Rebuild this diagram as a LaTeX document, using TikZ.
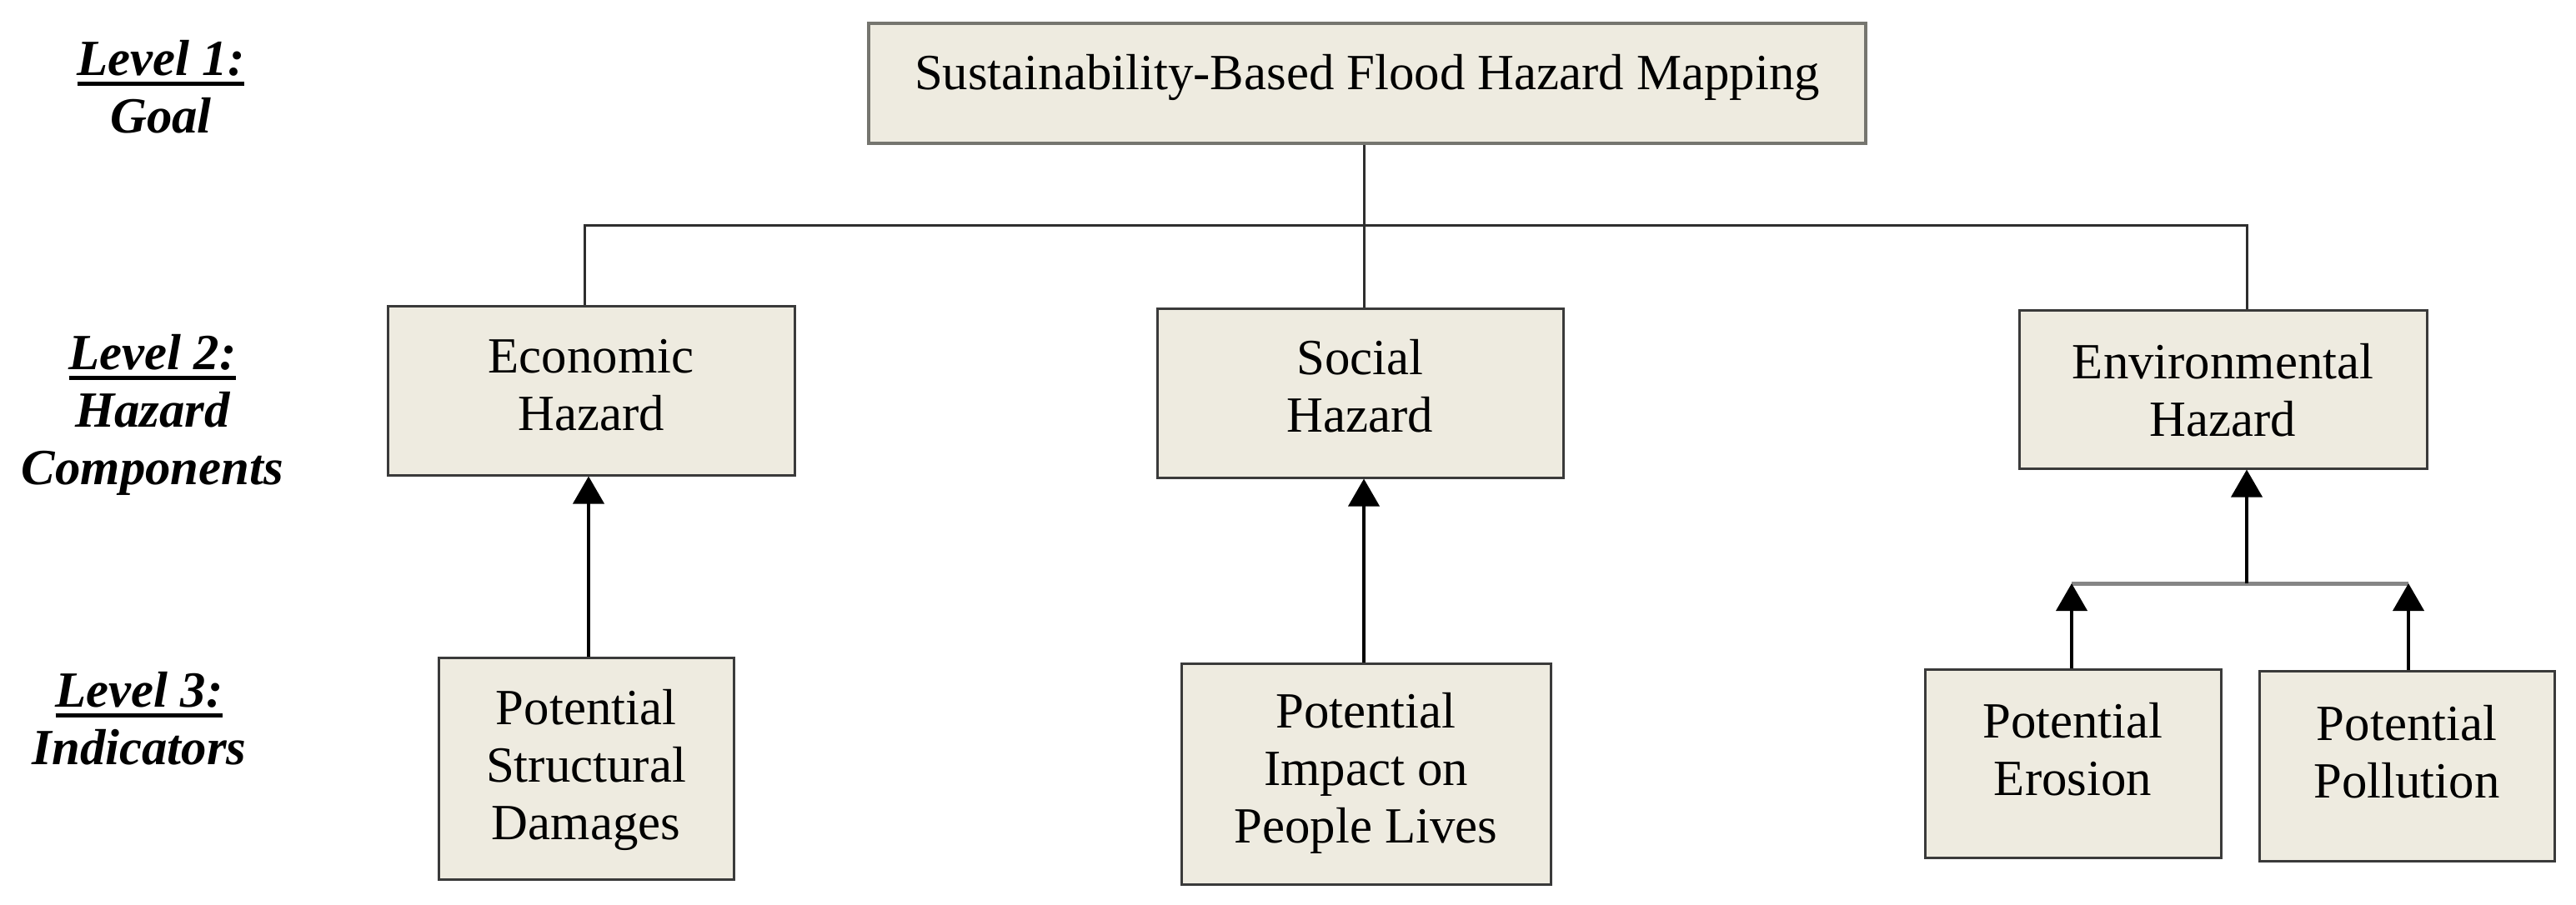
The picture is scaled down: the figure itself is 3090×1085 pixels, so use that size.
\documentclass[tikz,border=0pt]{standalone}
\usepackage{fontspec}
\setmainfont{Liberation Serif}
\usetikzlibrary{arrows.meta}
\definecolor{boxfill}{HTML}{EEEBE0}
\definecolor{boxline}{HTML}{3A3A3A}
\definecolor{goalline}{HTML}{75756F}
\definecolor{busline}{HTML}{2E2E2E}
\definecolor{greybus}{HTML}{858585}
\newsavebox\ulbox
\newcommand\lvlul[1]{\sbox\ulbox{#1}\rlap{\rule[-3.1pt]{\wd\ulbox}{1.25pt}}\usebox\ulbox}
\begin{document}
\begin{tikzpicture}[x=0.25pt,y=-0.25pt,
  box/.style={draw=boxline, line width=0.75pt, fill=boxfill, inner sep=0pt},
  txt/.style={align=center, inner sep=0pt, font=\fontsize{15.2}{17.25}\selectfont},
  lvl/.style={align=center, inner sep=0pt, font=\fontsize{15.2}{17.25}\selectfont\bfseries\itshape},
  tree/.style={draw=busline, line width=0.75pt, line join=miter},
  up/.style={draw=black, line width=1pt, -{Triangle[length=8.25pt,width=9.25pt]}},
  gbus/.style={draw=greybus, line width=1.25pt}]

\useasboundingbox (0,0) rectangle (3090,1085);

% boxes
\node[box, draw=goalline, line width=1.2pt, minimum width=299pt, minimum height=36pt] (goal) at (1640,100) {};
\node[box, minimum width=122pt, minimum height=50.75pt] (econ) at (709,468.5) {};
\node[box, minimum width=121.75pt, minimum height=50.75pt] (social) at (1631.5,471.5) {};
\node[box, minimum width=122.25pt, minimum height=47.5pt] (env) at (2666.5,467) {};
\node[box, minimum width=88.5pt, minimum height=66.5pt] (struct) at (703,922) {};
\node[box, minimum width=110.75pt, minimum height=66.25pt] (people) at (1638.5,928.5) {};
\node[box, minimum width=88.75pt, minimum height=56.5pt] (erosion) at (2486.5,916) {};
\node[box, minimum width=88.5pt, minimum height=57pt] (pollution) at (2887,919) {};

% texts
\node[txt] (goalT) at (1640,93) {Sustainability-Based Flood Hazard Mapping};
\node[txt] (econT) at (709,462) {Economic\\Hazard};
\node[txt] (socialT) at (1631.5,463.5) {Social\\Hazard};
\node[txt] (envT) at (2666.5,468.5) {Environmental\\Hazard};
\node[txt] (structT) at (703,923.5) {Potential\\Structural\\Damages};
\node[txt] (peopleT) at (1638.5,927.5) {Potential\\Impact on\\People Lives};
\node[txt] (erosionT) at (2486.5,899.5) {Potential\\Erosion};
\node[txt] (pollT) at (2887,902) {Potential\\Pollution};

% level labels
\node[lvl] (l1) at (193,104) {\lvlul{Level 1:}\\Goal};
\node[lvl] (l2) at (183,498) {\lvlul{Level 2:}\\Hazard\\Components};
\node[lvl] (l3) at (167,862) {\lvlul{Level 3:}\\Indicators};

% tree connectors
\coordinate (busL) at (701,270);
\coordinate (busM) at (1636,270);
\coordinate (busR) at (2695,270);
\draw[tree] (goal.south -| busM) -- (social.north -| busM);
\draw[tree] (econ.north -| busL) -- (busL) -- (busR) -- (env.north -| busR);

% arrows
\coordinate (ax1) at (706,700);
\draw[up] (struct.north -| ax1) -- (econ.south -| ax1);
\draw[up] (people.north -| busM) -- (social.south -| busM);

\coordinate (ej) at (2695,700);
\coordinate (ejL) at (2485,700);
\coordinate (ejR) at (2889,700);
\draw[gbus] (ejL) -- (ejR);
\draw[up] (ej) -- (env.south -| ej);
\draw[up] (erosion.north -| ejL) -- (ejL);
\draw[up] (pollution.north -| ejR) -- (ejR);
\end{tikzpicture}
\end{document}
